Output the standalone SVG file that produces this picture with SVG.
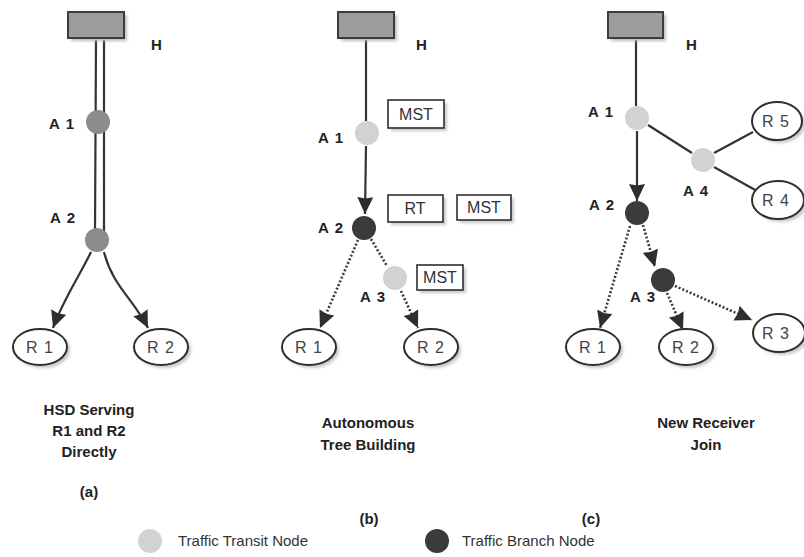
<svg xmlns="http://www.w3.org/2000/svg" width="804" height="557" viewBox="0 0 804 557">
  <defs>
    <filter id="soft" x="-20%" y="-20%" width="140%" height="140%">
      <feGaussianBlur stdDeviation="1.6"/>
    </filter>
    <filter id="fuzz" x="-30%" y="-30%" width="160%" height="160%">
      <feGaussianBlur stdDeviation="0.7"/>
    </filter>
    <marker id="arrow" markerUnits="userSpaceOnUse" markerWidth="20" markerHeight="20" refX="17" refY="8" orient="auto">
      <path d="M0,0 L17,8 L0,16 L1.5,8 z" fill="#2e2e2e"/>
    </marker>
  </defs>
  <style>
    .bg { fill: #ffffff; }
    .host { fill: #9c9c9c; stroke: #3c3c3c; stroke-width: 2; }
    .hostShadow { fill: #bdbdbd; filter: url(#soft); }
    .shadow { fill: #c8c8c8; filter: url(#soft); }
    .recv { fill: #ffffff; stroke: #2e2e2e; stroke-width: 2; }
    .box { fill: #ffffff; stroke: #2e2e2e; stroke-width: 1.6; }
    .mid { fill: #8c8c8c; filter: url(#fuzz); }
    .transit { fill: #d2d2d2; filter: url(#fuzz); }
    .branch { fill: #3a3a3a; filter: url(#fuzz); }
    .solid { fill: none; stroke: #333; stroke-width: 2.2; }
    .dotted { fill: none; stroke: #3a3a3a; stroke-width: 2.6; stroke-dasharray: 2 2; }
    .lbl { font-family: "Liberation Sans", Arial, sans-serif; font-weight: bold; font-size: 15px; fill: #222; letter-spacing: 1.2px; }
    .rlbl { font-family: "Liberation Sans", Arial, sans-serif; font-size: 16px; fill: #444; text-anchor: middle; letter-spacing: 1px; }
    .tag { font-family: "Liberation Sans", Arial, sans-serif; font-size: 16px; fill: #333; text-anchor: middle; }
    .cap { font-family: "Liberation Sans", Arial, sans-serif; font-weight: bold; font-size: 15px; fill: #222; text-anchor: middle; }
    .leg { font-family: "Liberation Sans", Arial, sans-serif; font-size: 15px; fill: #333; }
  </style>

  <rect class="bg" x="0" y="0" width="804" height="557"/>

  <!-- connectors -->
  <g id="connectors">
    <!-- (a) double link H to A2 and direct curves -->
    <line class="solid" x1="96" y1="40" x2="95" y2="232"/>
    <line class="solid" x1="104" y1="40" x2="104" y2="232"/>
    <path class="solid" d="M91,252 C80,275 63,300 53,328" marker-end="url(#arrow)"/>
    <path class="solid" d="M104,252 C112,285 134,300 148,328" marker-end="url(#arrow)"/>

    <!-- (b) -->
    <line class="solid" x1="366" y1="40" x2="366" y2="121"/>
    <line class="solid" x1="366" y1="146" x2="365" y2="214" marker-end="url(#arrow)"/>
    <line class="dotted" x1="358" y1="240" x2="320" y2="328" marker-end="url(#arrow)"/>
    <line class="dotted" x1="371" y1="239" x2="387" y2="266"/>
    <line class="dotted" x1="401" y1="291" x2="418" y2="328" marker-end="url(#arrow)"/>

    <!-- (c) -->
    <line class="solid" x1="636" y1="40" x2="636" y2="106"/>
    <line class="solid" x1="648" y1="125" x2="692" y2="153"/>
    <line class="solid" x1="714" y1="153" x2="753" y2="132"/>
    <line class="solid" x1="714" y1="167" x2="757" y2="191"/>
    <line class="solid" x1="637" y1="131" x2="637" y2="201" marker-end="url(#arrow)"/>
    <line class="dotted" x1="630" y1="226" x2="600" y2="328" marker-end="url(#arrow)"/>
    <line class="dotted" x1="643" y1="225" x2="655" y2="267" marker-end="url(#arrow)"/>
    <line class="dotted" x1="667" y1="293" x2="683" y2="330" marker-end="url(#arrow)"/>
    <line class="dotted" x1="675" y1="286" x2="752" y2="320" marker-end="url(#arrow)"/>
  </g>

  <!-- panel (a) -->
  <g id="a-H">
    <rect class="hostShadow" x="71" y="15" width="56" height="26"/>
    <rect class="host" x="68" y="12" width="56" height="26"/>
    <text class="lbl" x="151" y="50">H</text>
  </g>
  <g id="a-A1">
    <circle class="mid" cx="98" cy="122" r="12"/>
    <text class="lbl" x="49" y="129">A 1</text>
  </g>
  <g id="a-A2">
    <circle class="mid" cx="97" cy="240" r="12"/>
    <text class="lbl" x="50" y="223">A 2</text>
  </g>
  <g id="a-R1">
    <ellipse class="shadow" cx="43" cy="350" rx="27" ry="18"/>
    <ellipse class="recv" cx="40" cy="347" rx="27" ry="18"/>
    <text class="rlbl" x="40" y="353">R 1</text>
  </g>
  <g id="a-R2">
    <ellipse class="shadow" cx="164" cy="350" rx="27" ry="18"/>
    <ellipse class="recv" cx="161" cy="347" rx="27" ry="18"/>
    <text class="rlbl" x="161" y="353">R 2</text>
  </g>

  <!-- panel (b) -->
  <g id="b-H">
    <rect class="hostShadow" x="341" y="15" width="56" height="26"/>
    <rect class="host" x="338" y="12" width="56" height="26"/>
    <text class="lbl" x="416" y="50">H</text>
  </g>
  <g id="b-A1">
    <circle class="transit" cx="367" cy="133" r="12"/>
    <text class="lbl" x="318" y="143">A 1</text>
    <rect class="shadow" x="391" y="103" width="56" height="28"/>
    <rect class="box" x="388" y="100" width="56" height="28"/>
    <text class="tag" x="416" y="120">MST</text>
  </g>
  <g id="b-A2">
    <circle class="branch" cx="364" cy="228" r="12"/>
    <text class="lbl" x="318" y="233">A 2</text>
    <rect class="shadow" x="391" y="198" width="55" height="27"/>
    <rect class="box" x="388" y="195" width="55" height="27"/>
    <text class="tag" x="415" y="214">RT</text>
    <rect class="shadow" x="460" y="198" width="54" height="25"/>
    <rect class="box" x="457" y="195" width="54" height="25"/>
    <text class="tag" x="484" y="213">MST</text>
  </g>
  <g id="b-A3">
    <circle class="transit" cx="395" cy="278" r="12"/>
    <text class="lbl" x="360" y="302">A 3</text>
    <rect class="shadow" x="420" y="268" width="46" height="25"/>
    <rect class="box" x="417" y="265" width="46" height="25"/>
    <text class="tag" x="440" y="283">MST</text>
  </g>
  <g id="b-R1">
    <ellipse class="shadow" cx="312" cy="350" rx="27" ry="18"/>
    <ellipse class="recv" cx="309" cy="347" rx="27" ry="18"/>
    <text class="rlbl" x="309" y="353">R 1</text>
  </g>
  <g id="b-R2">
    <ellipse class="shadow" cx="434" cy="350" rx="27" ry="18"/>
    <ellipse class="recv" cx="431" cy="347" rx="27" ry="18"/>
    <text class="rlbl" x="431" y="353">R 2</text>
  </g>

  <!-- panel (c) -->
  <g id="c-H">
    <rect class="hostShadow" x="611" y="15" width="55" height="26"/>
    <rect class="host" x="608" y="12" width="55" height="26"/>
    <text class="lbl" x="686" y="50">H</text>
  </g>
  <g id="c-A1">
    <circle class="transit" cx="637" cy="118" r="12"/>
    <text class="lbl" x="588" y="117">A 1</text>
  </g>
  <g id="c-A4">
    <circle class="transit" cx="703" cy="160" r="12"/>
    <text class="lbl" x="683" y="196">A 4</text>
  </g>
  <g id="c-R5">
    <ellipse class="shadow" cx="780" cy="124" rx="25" ry="19"/>
    <ellipse class="recv" cx="777" cy="121" rx="25" ry="19"/>
    <text class="rlbl" x="776" y="127">R 5</text>
  </g>
  <g id="c-R4">
    <ellipse class="shadow" cx="781" cy="203" rx="26" ry="19"/>
    <ellipse class="recv" cx="778" cy="200" rx="26" ry="19"/>
    <text class="rlbl" x="776" y="206">R 4</text>
  </g>
  <g id="c-A2">
    <circle class="branch" cx="637" cy="213" r="12"/>
    <text class="lbl" x="589" y="210">A 2</text>
  </g>
  <g id="c-A3">
    <circle class="branch" cx="663" cy="280" r="12"/>
    <text class="lbl" x="630" y="302">A 3</text>
  </g>
  <g id="c-R1">
    <ellipse class="shadow" cx="596" cy="350" rx="27" ry="18"/>
    <ellipse class="recv" cx="593" cy="347" rx="27" ry="18"/>
    <text class="rlbl" x="593" y="353">R 1</text>
  </g>
  <g id="c-R2">
    <ellipse class="shadow" cx="689" cy="350" rx="27" ry="18"/>
    <ellipse class="recv" cx="686" cy="347" rx="27" ry="18"/>
    <text class="rlbl" x="686" y="353">R 2</text>
  </g>
  <g id="c-R3">
    <ellipse class="shadow" cx="782" cy="336" rx="26" ry="19"/>
    <ellipse class="recv" cx="779" cy="333" rx="26" ry="19"/>
    <text class="rlbl" x="776" y="339">R 3</text>
  </g>

  <!-- captions -->
  <g id="captions">
    <text class="cap" x="89" y="415">HSD Serving</text>
    <text class="cap" x="89" y="436">R1 and R2</text>
    <text class="cap" x="89" y="457">Directly</text>
    <text class="cap" x="89" y="497">(a)</text>
    <text class="cap" x="368" y="428">Autonomous</text>
    <text class="cap" x="368" y="450">Tree Building</text>
    <text class="cap" x="369" y="524">(b)</text>
    <text class="cap" x="706" y="428">New Receiver</text>
    <text class="cap" x="706" y="450">Join</text>
    <text class="cap" x="591" y="524">(c)</text>
  </g>

  <!-- legend -->
  <g id="legend">
    <circle class="transit" cx="150" cy="541" r="12"/>
    <text class="leg" x="178" y="546">Traffic Transit Node</text>
    <circle class="branch" cx="437" cy="541" r="12"/>
    <text class="leg" x="462" y="546">Traffic Branch Node</text>
  </g>
</svg>
